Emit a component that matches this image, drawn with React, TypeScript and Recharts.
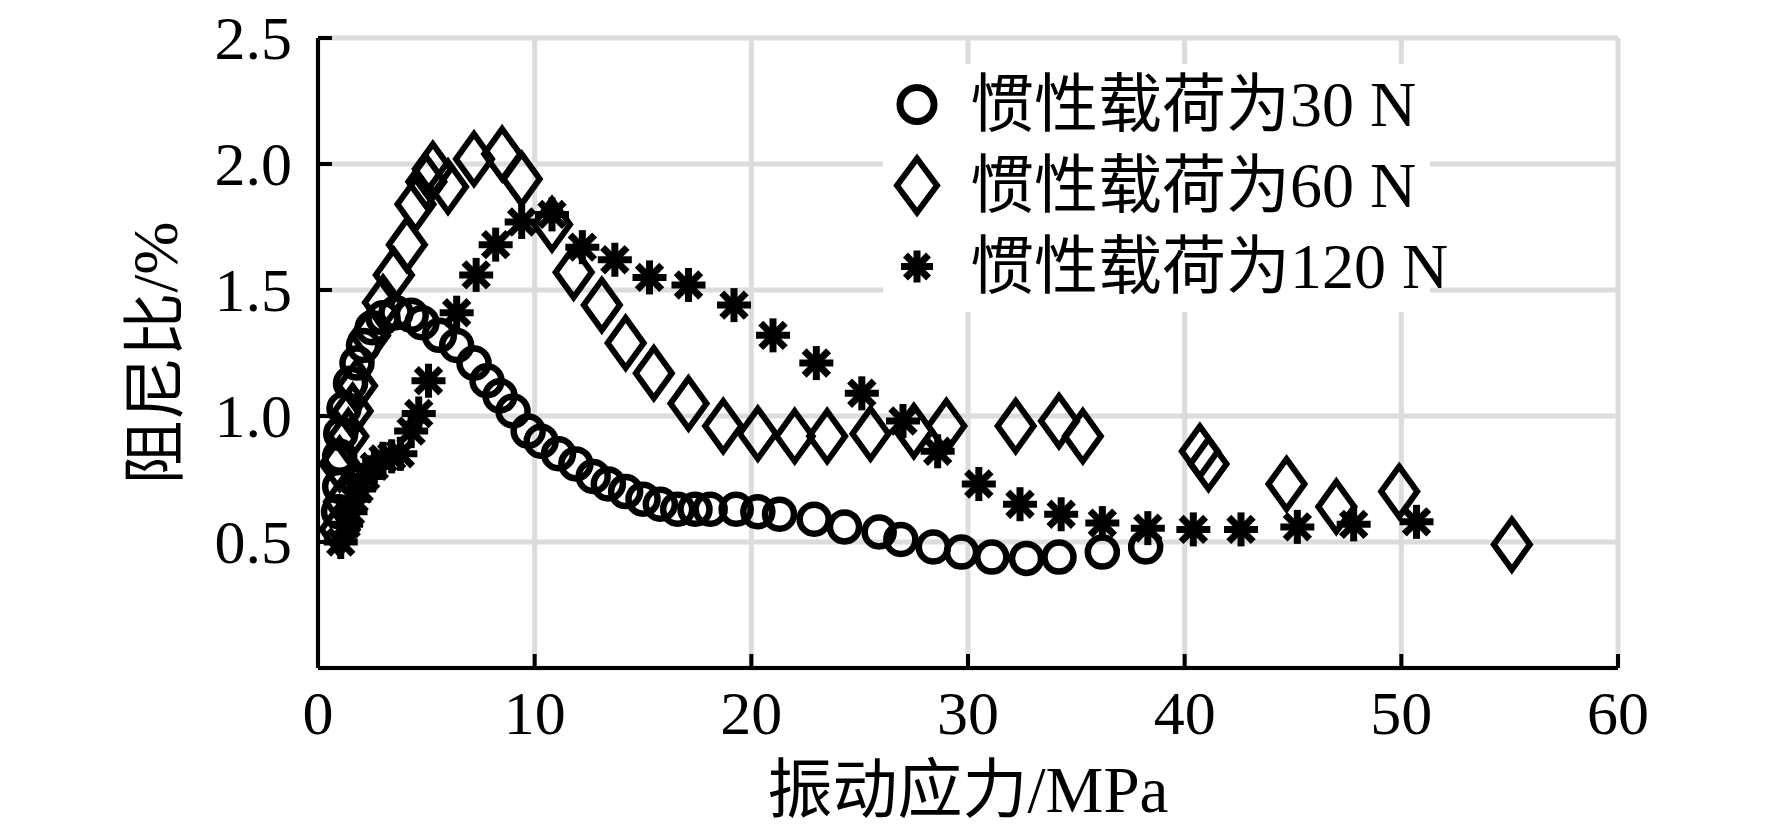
import { ScatterChart, Scatter, XAxis, YAxis, CartesianGrid } from "recharts";

// 惯性载荷为30 N
const stress30 = [0.95, 1.0, 1.0, 1.05, 1.2, 1.5, 1.8, 2.1, 2.5, 3.0, 3.6, 4.3, 4.8, 5.6, 6.4, 7.2, 7.8, 8.4, 9.0, 9.7, 10.3, 11.1, 11.9, 12.7, 13.4, 14.2, 15.0, 15.8, 16.6, 17.4, 18.1, 19.3, 20.3, 21.3, 22.9, 24.3, 25.9, 26.9, 28.4, 29.7, 31.1, 32.7, 34.2, 36.2, 38.2];
const damping30 = [0.62, 0.72, 0.84, 0.93, 1.03, 1.13, 1.21, 1.28, 1.35, 1.39, 1.41, 1.4, 1.37, 1.32, 1.28, 1.21, 1.14, 1.08, 1.02, 0.94, 0.9, 0.85, 0.81, 0.76, 0.73, 0.7, 0.67, 0.65, 0.63, 0.63, 0.63, 0.63, 0.62, 0.61, 0.59, 0.56, 0.54, 0.51, 0.48, 0.46, 0.44, 0.435, 0.44, 0.46, 0.48];

// 惯性载荷为60 N
const stress60 = [1.0, 1.2, 1.0, 1.4, 1.6, 1.8, 2.4, 3.0, 3.5, 4.1, 4.5, 5.0, 5.3, 6.0, 7.2, 8.5, 9.4, 10.8, 11.8, 13.1, 14.2, 15.5, 17.1, 18.7, 20.3, 22.0, 23.5, 25.5, 27.5, 29.0, 32.2, 34.2, 35.3, 40.7, 41.1, 44.7, 47.0, 49.9, 55.1];
const damping60 = [0.55, 0.66, 0.81, 0.92, 1.02, 1.12, 1.32, 1.45, 1.56, 1.68, 1.84, 1.93, 1.98, 1.91, 2.02, 2.04, 1.94, 1.76, 1.57, 1.44, 1.29, 1.17, 1.05, 0.96, 0.93, 0.92, 0.92, 0.93, 0.94, 0.96, 0.96, 0.98, 0.92, 0.86, 0.81, 0.73, 0.64, 0.7, 0.49];

// 惯性载荷为120 N
const stress120 = [1.05, 1.3, 1.5, 1.67, 1.9, 2.2, 2.6, 3.0, 3.4, 3.8, 4.3, 4.65, 5.1, 6.4, 7.3, 8.2, 9.4, 10.8, 12.2, 13.7, 15.3, 17.1, 19.2, 21.0, 23.0, 25.1, 27.0, 28.6, 30.5, 32.4, 34.3, 36.2, 38.3, 40.4, 42.6, 45.2, 47.8, 50.7];
const damping120 = [0.5, 0.57, 0.62, 0.67, 0.71, 0.76, 0.8, 0.83, 0.84, 0.85, 0.94, 1.01, 1.14, 1.41, 1.56, 1.68, 1.77, 1.8, 1.67, 1.62, 1.55, 1.52, 1.44, 1.32, 1.21, 1.09, 0.98, 0.86, 0.73, 0.65, 0.61, 0.575, 0.555, 0.55, 0.55, 0.56, 0.57, 0.58];

const xTicks = [0, 10, 20, 30, 40, 50, 60];
const yTicks = [0.5, 1.0, 1.5, 2.0, 2.5];

const toPoints = (xs: number[], ys: number[]) => xs.map((x, i) => ({ x, y: ys[i] }));

const FONT = '"Liberation Serif", "Times New Roman", "Noto Sans CJK SC", serif';
const FS = 62;

const CircleMark = ({ cx, cy, r = 14.5, w = 6.5 }: any) => (
  <circle cx={cx} cy={cy} r={r} fill="none" stroke="#000" strokeWidth={w} />
);

const DiamondMark = ({ cx, cy, hw = 18, hh = 25 }: any) => (
  <polygon
    points={`${cx},${cy - hh} ${cx + hw},${cy} ${cx},${cy + hh} ${cx - hw},${cy}`}
    fill="none"
    stroke="#000"
    strokeWidth={6}
  />
);

const StarMark = ({ cx, cy, s = 17 }: any) => {
  const d = s * 0.72;
  return (
    <g stroke="#000" strokeWidth={7}>
      <line x1={cx} y1={cy - s} x2={cx} y2={cy + s} />
      <line x1={cx - s} y1={cy} x2={cx + s} y2={cy} />
      <line x1={cx - d} y1={cy - d} x2={cx + d} y2={cy + d} />
      <line x1={cx - d} y1={cy + d} x2={cx + d} y2={cy - d} />
    </g>
  );
};

const XTick = ({ x, y, payload }: any) => (
  <g>
    <line x1={x} y1={y} x2={x} y2={y - 14} stroke="#000" strokeWidth={4} />
    <text x={x} y={y + 45} textAnchor="middle" dominantBaseline="central" fontFamily={FONT} fontSize={FS} fill="#000">
      {payload.value}
    </text>
  </g>
);

const YTick = ({ x, y, payload }: any) => (
  <g>
    <line x1={x} y1={y} x2={x + 14} y2={y} stroke="#000" strokeWidth={4} />
    <text x={x - 26} y={y} textAnchor="end" dominantBaseline="central" fontFamily={FONT} fontSize={FS} fill="#000">
      {payload.value.toFixed(1)}
    </text>
  </g>
);

const XTitle = ({ viewBox }: any) => (
  <text x={viewBox.x + viewBox.width / 2} y={viewBox.y + 122} textAnchor="middle" dominantBaseline="central" fontFamily={FONT} fontSize={65} fill="#000">
    振动应力/MPa
  </text>
);

const YTitle = ({ viewBox }: any) => {
  const cx = 155;
  const cy = viewBox.y + viewBox.height / 2;
  return (
    <text x={cx} y={cy} transform={`rotate(-90 ${cx} ${cy})`} textAnchor="middle" dominantBaseline="central" fontFamily={FONT} fontSize={64} fill="#000">
      阻尼比/%
    </text>
  );
};

const legendItems = [
  { name: "惯性载荷为30 N", Mark: (p: any) => <CircleMark {...p} r={17} w={7} /> },
  { name: "惯性载荷为60 N", Mark: (p: any) => <DiamondMark {...p} hw={20} hh={27} /> },
  { name: "惯性载荷为120 N", Mark: (p: any) => <StarMark {...p} s={16} /> },
];

const LegendBox = () => (
  <div style={{ position: "absolute", left: 883, top: 64, width: 547, height: 248, background: "#fff", fontFamily: FONT, fontSize: 64, color: "#000" }}>
    {legendItems.map(({ name, Mark }) => (
      <div key={name} style={{ display: "flex", alignItems: "center", height: 81 }}>
        <svg width={68} height={81} style={{ flex: "none" }}>
          <Mark cx={34} cy={40.5} />
        </svg>
        <span style={{ marginLeft: 19, whiteSpace: "nowrap", lineHeight: "81px" }}>{name}</span>
      </div>
    ))}
  </div>
);

export default function App() {
  return (
    <div style={{ position: "absolute", left: 0, top: 0, width: 1772, height: 833, background: "#fff" }}>
      <ScatterChart width={1772} height={833} margin={{ top: 38, right: 154, bottom: 0, left: 0 }}>
        <CartesianGrid stroke="#dcdcdc" strokeWidth={5} />
        <XAxis
          type="number"
          dataKey="x"
          domain={[0, 60]}
          ticks={xTicks}
          height={165}
          axisLine={{ stroke: "#000", strokeWidth: 4 }}
          tickLine={false}
          tickSize={0}
          tickMargin={0}
          tick={<XTick />}
          label={<XTitle />}
        />
        <YAxis
          type="number"
          dataKey="y"
          domain={[0, 2.5]}
          ticks={yTicks}
          width={318}
          axisLine={{ stroke: "#000", strokeWidth: 4 }}
          tickLine={false}
          tickSize={0}
          tickMargin={0}
          tick={<YTick />}
          label={<YTitle />}
        />
        <Scatter name="惯性载荷为30 N" data={toPoints(stress30, damping30)} shape={CircleMark} isAnimationActive={false} />
        <Scatter name="惯性载荷为60 N" data={toPoints(stress60, damping60)} shape={DiamondMark} isAnimationActive={false} />
        <Scatter name="惯性载荷为120 N" data={toPoints(stress120, damping120)} shape={StarMark} isAnimationActive={false} />
      </ScatterChart>
      <LegendBox />
    </div>
  );
}
